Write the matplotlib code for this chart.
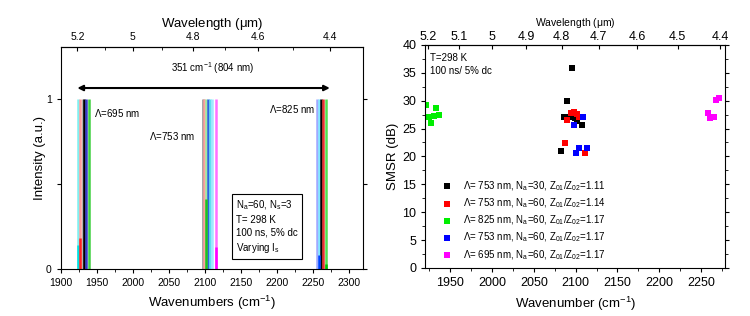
import numpy as np
import matplotlib
matplotlib.use('Agg')
import matplotlib.pyplot as plt
from matplotlib.ticker import MultipleLocator, FormatStrFormatter

plt.rcParams['font.family'] = ['Liberation Sans', 'DejaVu Sans']
plt.rcParams['mathtext.fontset'] = 'custom'
plt.rcParams['mathtext.rm'] = 'Liberation Sans'
plt.rcParams['mathtext.it'] = 'Liberation Sans'

# left panel: stick spectra (wavenumber, height, colour)
stick_pos = [1924, 1927, 1930.5, 1932.5, 1934.5, 1939,
             2097, 2099, 2101.5, 2104, 2107, 2110, 2115,
             2255, 2257.5, 2261, 2264, 2267.5]
stick_h = [1, 1, 1, 1, 1, 1,
           1, 1, 1, 1, 1, 1, 1,
           1, 1, 1, 1, 1]
stick_col = ['#80f0f0', '#ff9a9a', '#9a9a9a', '#000000', '#3838c8', '#40d040',
             '#8a8a8a', '#ffa0a0', '#a0e8a0', '#3060e0', '#60e0f0', '#a0e8ff', '#ff70ff',
             '#a0a8ff', '#80e8ff', '#000000', '#e83030', '#50e050']
# stronger lower parts of some spectra
over_pos = [1924, 1927, 2101.5, 2115, 2257.5, 2267.5]
over_h = [0.14, 0.18, 0.41, 0.13, 0.08, 0.03]
over_col = ['#00e0e0', '#ff2020', '#20c020', '#ff00ff', '#0040ff', '#00c000']

# right panel: SMSR data
blk_x = [2096, 2090, 2086, 2093, 2099, 2102, 2107, 2082]
blk_y = [35.8, 30.0, 27.0, 27.0, 26.9, 26.4, 25.6, 20.9]
red_x = [2087, 2090, 2094, 2098, 2101, 2104, 2111]
red_y = [22.4, 26.5, 27.7, 28.0, 27.6, 27.0, 20.7]
grn_x = [1921, 1924, 1927, 1930, 1933, 1937]
grn_y = [29.2, 27.0, 26.0, 27.3, 28.6, 27.4]
blu_x = [2098, 2109, 2100, 2104, 2113]
blu_y = [25.6, 27.0, 20.6, 21.5, 21.5]
mag_x = [2258, 2261, 2265, 2268, 2272]
mag_y = [27.7, 26.9, 27.0, 30.1, 30.4]
labels = [r'$\Lambda$= 753 nm, N$_a$=30, Z$_{01}$/Z$_{02}$=1.11',
          r'$\Lambda$= 753 nm, N$_a$=60, Z$_{01}$/Z$_{02}$=1.14',
          r'$\Lambda$= 825 nm, N$_a$=60, Z$_{01}$/Z$_{02}$=1.17',
          r'$\Lambda$= 753 nm, N$_a$=60, Z$_{01}$/Z$_{02}$=1.17',
          r'$\Lambda$= 695 nm, N$_a$=60, Z$_{01}$/Z$_{02}$=1.17']


def wn2wl(x):
    x = np.asarray(x, dtype=float)
    with np.errstate(divide='ignore'):
        return np.where(x == 0, np.inf, 10000.0 / x)


fig = plt.figure(figsize=(7.5, 3.16), dpi=100)

# ---------- left panel ----------
ax1 = fig.add_axes([0.081, 0.149, 0.403, 0.702])
ax1.vlines(stick_pos, 0, stick_h, colors=stick_col, linewidth=1.8)
ax1.vlines(over_pos, 0, over_h, colors=over_col, linewidth=1.8)
ax1.set_xlim(1900, 2319)
ax1.set_ylim(0, 1.306)
ax1.xaxis.set_major_locator(MultipleLocator(50))
ax1.xaxis.set_minor_locator(MultipleLocator(25))
ax1.set_yticks([0, 0.5, 1])
ax1.set_yticklabels(['0', '', '1'])
ax1.tick_params(labelsize=7.5, direction='out', length=3)
ax1.tick_params(which='minor', length=2)
ax1.tick_params(axis='y', right=True)
ax1.set_xlabel('Wavenumbers (cm$^{-1}$)', fontsize=9.5)
ax1.set_ylabel('Intensity (a.u.)', fontsize=9.5, labelpad=0)

ax1.annotate('', xy=(2273, 1.065), xytext=(1923, 1.065),
             arrowprops=dict(arrowstyle='<|-|>', color='black', lw=1.5,
                             mutation_scale=8, shrinkA=0, shrinkB=0))
ax1.text(2110, 1.18, '351 cm$^{-1}$ (804 nm)', fontsize=7, ha='center', va='center')
ax1.text(1946, 0.92, r'$\Lambda$=695 nm', fontsize=7, va='center')
ax1.text(2022, 0.78, r'$\Lambda$=753 nm', fontsize=7, va='center')
ax1.text(2253, 0.94, r'$\Lambda$=825 nm', fontsize=7, va='center', ha='right')
ax1.text(2143, 0.25, 'N$_a$=60, N$_s$=3\nT= 298 K\n100 ns, 5% dc\nVarying I$_s$',
         fontsize=7, va='center', ha='left', linespacing=1.35,
         bbox=dict(boxstyle='square,pad=0.4', fc='white', ec='black', lw=0.8))

sec1 = ax1.secondary_xaxis('top', functions=(wn2wl, wn2wl))
sec1.set_xticks([5.2, 5.0, 4.8, 4.6, 4.4])
sec1.set_xticks([5.1, 4.9, 4.7, 4.5], minor=True)
sec1.xaxis.set_major_formatter(FormatStrFormatter('%g'))
sec1.tick_params(labelsize=7.5, direction='in', length=3)
sec1.tick_params(which='minor', direction='in', length=2)
sec1.set_xlabel(r'Wavelength ($\mu$m)', fontsize=9.5, labelpad=4)

# ---------- right panel ----------
ax2 = fig.add_axes([0.567, 0.152, 0.40, 0.706])
sets = [(blk_x, blk_y, 'black'), (red_x, red_y, '#ff0000'), (grn_x, grn_y, '#00ee00'),
        (blu_x, blu_y, '#0000ff'), (mag_x, mag_y, '#ff00ff')]
handles = []
for (xs, ys, c), lab in zip(sets, labels):
    h = ax2.scatter(xs, ys, marker='s', s=14, color=c, label=lab, linewidths=0)
    handles.append(h)
ax2.set_xlim(1920, 2279)
ax2.set_ylim(0, 40)
ax2.xaxis.set_major_locator(MultipleLocator(50))
ax2.xaxis.set_minor_locator(MultipleLocator(25))
ax2.yaxis.set_major_locator(MultipleLocator(5))
ax2.yaxis.set_minor_locator(MultipleLocator(2.5))
ax2.tick_params(labelsize=9, direction='out', length=3)
ax2.tick_params(which='minor', length=2)
ax2.tick_params(axis='y', which='both', right=True)
ax2.set_xlabel('Wavenumber (cm$^{-1}$)', fontsize=9.5)
ax2.set_ylabel('SMSR (dB)', fontsize=9.5, labelpad=2)
ax2.text(0.015, 0.965, 'T=298 K', transform=ax2.transAxes, fontsize=7, va='top')
ax2.text(0.015, 0.905, '100 ns/ 5% dc', transform=ax2.transAxes, fontsize=7, va='top')
ax2.legend(handles=handles, loc='lower left', bbox_to_anchor=(0.04, 0.011),
           frameon=False, fontsize=7, handletextpad=1.0, labelspacing=0.37,
           borderaxespad=0, handlelength=1.2)

sec2 = ax2.secondary_xaxis('top', functions=(wn2wl, wn2wl))
sec2.set_xticks([5.2, 5.1, 5.0, 4.9, 4.8, 4.7, 4.6, 4.5, 4.4])
sec2.xaxis.set_major_formatter(FormatStrFormatter('%g'))
sec2.tick_params(labelsize=9, direction='in', length=3, pad=1)
sec2.set_xlabel(r'Wavelength ($\mu$m)', fontsize=7.5, labelpad=4)

fig.savefig('out.png', dpi=100)
